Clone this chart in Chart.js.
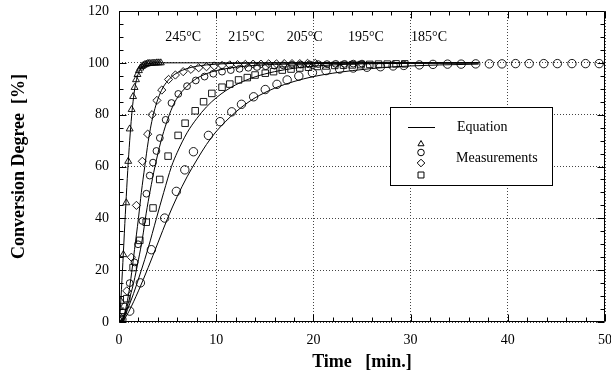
<!DOCTYPE html>
<html><head><meta charset="utf-8">
<script src="https://cdn.jsdelivr.net/npm/chart.js@4.4.1/dist/chart.umd.min.js"></script>
<style>html,body{margin:0;padding:0;background:#fff;}</style>
</head><body>
<canvas id="c" width="611" height="381"></canvas>
<script>
// ---- Data ----
const eq245T = [0, 0.1, 0.2, 0.3, 0.4, 0.5, 0.6, 0.7, 0.8, 0.9, 1.0, 1.1, 1.2, 1.3, 1.4, 1.6, 1.8, 2.0, 2.2, 2.5, 3.0, 4.0, 6.0, 37];
const eq245V = [0, 3, 9, 16, 23, 30.5, 38, 45, 52, 58.5, 64.5, 70, 75, 79.5, 83.5, 89.5, 93.5, 96, 97.6, 99, 99.7, 100, 100, 100];
const ms245T = [0.05, 0.2, 0.45, 0.75, 0.95, 1.1, 1.3, 1.45, 1.6, 1.75, 1.9, 2.05, 2.2, 2.35, 2.5, 2.65, 2.8, 2.95, 3.1, 3.3, 3.5, 3.7, 3.9, 4.1, 4.3];
const ms245V = [1, 8, 26, 46, 62, 74.5, 82, 87, 90.5, 93.5, 95.5, 97, 98, 98.6, 99, 99.3, 99.5, 99.7, 99.8, 99.8, 99.9, 99.9, 100, 100, 100];

const eq215T = [0, 0.5, 1.0, 1.3, 1.6, 2.0, 2.3, 2.65, 3.0, 3.3, 3.6, 4.0, 4.5, 5.0, 5.5, 6.0, 7.0, 8.0, 9.0, 10, 12, 15, 20, 37];
const eq215V = [0, 2.5, 11, 19, 28, 40, 50, 60, 69.5, 76, 81, 86, 90.3, 93, 94.9, 96.2, 97.8, 98.7, 99.2, 99.5, 99.8, 99.9, 100, 100];
const ms215T = [0.1, 0.4, 0.8, 1.27, 1.79, 2.4, 2.95, 3.4, 3.9, 4.4, 5.1, 5.8, 6.6, 7.4, 8.2, 9.0, 9.8, 10.6, 11.4, 12.2, 13.0, 13.8, 14.6, 15.4, 16.2, 17.0, 17.8, 18.6, 19.4, 20.2];
const ms215V = [0.5, 4, 12, 25, 45, 62, 72.5, 80, 85.5, 89.5, 93.6, 95.3, 96.6, 97.5, 98.1, 98.5, 98.8, 99, 99.2, 99.3, 99.4, 99.5, 99.5, 99.6, 99.6, 99.7, 99.7, 99.7, 99.8, 99.8];

const eq205T = [0, 0.5, 1.0, 1.5, 2.0, 2.4, 2.8, 3.2, 3.7, 4.3, 4.9, 5.5, 6.0, 7.0, 8.0, 9.0, 10, 12, 14, 16, 20, 25, 37];
const eq205V = [0, 2, 8, 15, 24, 32, 42, 50.5, 60, 69.5, 77, 83, 86.5, 91, 94, 95.8, 97, 98.3, 99, 99.4, 99.7, 99.9, 100];
const ms205T = [0.15, 0.6, 1.1, 1.6, 1.96, 2.4, 2.82, 3.16, 3.5, 3.85, 4.2, 4.8, 5.4, 6.1, 7.0, 7.9, 8.8, 9.7, 10.6, 11.5, 12.4, 13.3, 14.2, 15.1, 16.0, 16.9, 17.8, 18.7, 19.6, 20.5, 21.4, 22.3, 23.2, 24.1, 25.0];
const ms205V = [1, 6, 15, 23, 30, 39, 49.5, 56.5, 61.5, 66, 71, 78, 84.5, 88, 91, 93.2, 94.7, 95.8, 96.6, 97.2, 97.7, 98.1, 98.4, 98.7, 98.9, 99.0, 99.2, 99.3, 99.4, 99.5, 99.5, 99.6, 99.6, 99.7, 99.7];

const eq195T = [0, 0.5, 1.0, 1.5, 2.3, 3.0, 3.85, 4.6, 5.4, 6.0, 7.0, 8.0, 9.0, 10, 11, 12, 13, 14, 15, 16, 18, 20, 22, 25, 30, 37];
const eq195V = [0, 1.5, 6, 11, 20, 28.5, 40, 50, 60, 65.5, 73, 78.5, 83, 86.5, 89.3, 91.5, 93.2, 94.6, 95.7, 96.6, 97.9, 98.7, 99.2, 99.6, 99.8, 100];
const ms195T = [0.26, 0.8, 1.45, 2.14, 2.8, 3.5, 4.19, 5.05, 6.08, 6.8, 7.84, 8.7, 9.55, 10.6, 11.4, 12.3, 13.2, 14.0, 15.05, 15.9, 16.8, 17.7, 18.6, 19.5, 20.4, 21.3, 22.2, 23.1, 24.0, 24.9, 25.8, 26.7, 27.6, 28.5, 29.4];
const ms195V = [2, 9, 21, 31.5, 38.5, 44, 55, 64, 72, 76.7, 81.5, 85, 88.2, 90.6, 91.8, 93.4, 94.3, 95.3, 96, 96.6, 97.2, 97.6, 98, 98.3, 98.6, 98.8, 99, 99.1, 99.2, 99.3, 99.4, 99.5, 99.5, 99.6, 99.6];

const eq185T = [0, 0.5, 1, 2, 3, 4, 5, 6, 7, 8, 9, 10, 11, 12, 13, 14, 15, 16, 17, 18, 20, 22, 24, 26, 28, 30, 33, 37];
const eq185V = [0, 1, 4, 12, 21, 30.5, 40, 48.5, 56, 62.5, 68.5, 73.5, 77.5, 81, 84, 86.5, 88.5, 90.2, 91.6, 92.8, 94.7, 96, 97, 97.8, 98.4, 98.8, 99.2, 99.5];
const ms185T = [0.3, 1.1, 2.2, 3.33, 4.7, 5.9, 6.77, 7.66, 9.2, 10.4, 11.6, 12.6, 13.85, 15.05, 16.25, 17.3, 18.5, 19.9, 21.3, 22.7, 24.1, 25.5, 26.9, 28.2, 29.3, 30.9, 32.3, 33.8, 35.2, 36.7, 38.1, 39.4, 40.8, 42.2, 43.7, 45.1, 46.6, 48.0, 49.4];
const ms185V = [1, 4.2, 15.1, 27.9, 40.1, 50.4, 58.7, 65.7, 72, 77.3, 81.1, 84, 86.9, 89.7, 91.7, 93.4, 94.9, 96.2, 97, 97.6, 98, 98.3, 98.5, 98.8, 99, 99.2, 99.4, 99.5, 99.5, 99.6, 99.6, 99.6, 99.7, 99.7, 99.7, 99.7, 99.7, 99.7, 99.7];

const tempLabels = ['245°C', '215°C', '205°C', '195°C', '185°C'];
const tempLabelT = [6.6, 13.1, 19.1, 25.4, 31.9];
const tempLabelV = 110;

const xTicks = [0, 10, 20, 30, 40, 50];
const yTicks = [0, 20, 40, 60, 80, 100, 120];
const xMinorStep = 2, yMinorStep = 5;

// ---- Build datasets ----
const pts = (T, V) => T.map((t, i) => ({x: t, y: V[i]}));
const SERIF = "'Liberation Serif', 'Times New Roman', serif";

function eqSet(T, V) {
  return {data: pts(T, V), showLine: true, pointRadius: 0, borderColor: '#000', borderWidth: 1,
          cubicInterpolationMode: 'monotone', order: 2};
}
function msSet(T, V, style, r) {
  return {data: pts(T, V), showLine: false, pointStyle: style, pointRadius: r,
          pointBorderColor: '#000', pointBackgroundColor: 'rgba(0,0,0,0)', pointBorderWidth: 0.9, order: 1};
}

const datasets = [
  eqSet(eq245T, eq245V), eqSet(eq215T, eq215V), eqSet(eq205T, eq205V), eqSet(eq195T, eq195V), eqSet(eq185T, eq185V),
  msSet(ms245T, ms245V, 'triangle', 4),
  msSet(ms215T, ms215V, 'rectRot', 4.1),
  msSet(ms205T, ms205V, 'circle', 3.4),
  msSet(ms195T, ms195V, 'rect', 4.6),
  msSet(ms185T, ms185V, 'circle', 4.2)
];

// ---- Decorations: frame with inward ticks, temperature labels, legend box ----
const decor = {
  id: 'decor',
  afterDatasetsDraw(chart) {
    const {ctx, chartArea: {left, top, right, bottom}, scales: {x, y}} = chart;
    ctx.save();
    ctx.strokeStyle = '#000';
    ctx.lineWidth = 1;
    const L = Math.round(left) + 0.5, R = Math.round(right) - 0.5, T = Math.round(top) + 0.5, B = Math.round(bottom) - 0.5;
    ctx.beginPath();
    ctx.rect(L, T, R - L, B - T);
    ctx.stroke();
    ctx.beginPath();
    for (let v = x.min; v <= x.max + 1e-9; v += xMinorStep) {
      const px = Math.round(x.getPixelForValue(v)) + 0.5;
      const len = xTicks.includes(v) ? 7 : 4;
      ctx.moveTo(px, B); ctx.lineTo(px, B - len);
      ctx.moveTo(px, T); ctx.lineTo(px, T + len);
    }
    for (let v = y.min; v <= y.max + 1e-9; v += yMinorStep) {
      const py = Math.round(y.getPixelForValue(v)) + 0.5;
      const len = yTicks.includes(v) ? 7 : 4;
      ctx.moveTo(L, py); ctx.lineTo(L + len, py);
      ctx.moveTo(R, py); ctx.lineTo(R - len, py);
    }
    ctx.stroke();

    // temperature labels
    ctx.fillStyle = '#000';
    ctx.font = "14px " + SERIF;
    ctx.textAlign = 'center';
    ctx.textBaseline = 'middle';
    tempLabels.forEach((s, i) => {
      ctx.fillText(s, x.getPixelForValue(tempLabelT[i]), y.getPixelForValue(tempLabelV));
    });

    // legend box
    const bx = 390.5, by = 107.5, bw = 162, bh = 78;
    ctx.fillStyle = '#fff';
    ctx.fillRect(bx, by, bw, bh);
    ctx.strokeRect(bx, by, bw, bh);
    ctx.beginPath();
    ctx.moveTo(408, 127.5); ctx.lineTo(435, 127.5);
    ctx.stroke();
    ctx.fillStyle = '#000';
    ctx.textAlign = 'left';
    ctx.fillText('Equation', 457, 127);
    ctx.fillText('Measurements', 456, 158);
    const H = Chart.helpers;
    const mk = (style, r, yy) => H.drawPoint(ctx, {pointStyle: style, radius: r, borderWidth: 0.9}, 421, yy);
    ctx.strokeStyle = '#000';
    ctx.fillStyle = 'rgba(0,0,0,0)';
    mk('triangle', 3.5, 144);
    mk('circle', 3.3, 152.5);
    mk('rectRot', 3.8, 163);
    mk('rect', 4.2, 175);
    ctx.restore();
  }
};

new Chart(document.getElementById('c'), {
  type: 'scatter',
  data: {datasets},
  plugins: [decor],
  options: {
    responsive: false,
    animation: false,
    layout: {padding: {top: 11, right: 6, left: 0, bottom: 0}},
    plugins: {legend: {display: false}, tooltip: {enabled: false}},
    scales: {
      x: {
        type: 'linear', min: 0, max: 50,
        afterBuildTicks(s) { s.ticks = xTicks.map(v => ({value: v})); },
        ticks: {font: {family: SERIF, size: 14}, color: '#000', padding: 10, maxRotation: 0},
        grid: {color: '#444', lineWidth: 1, drawTicks: false},
        border: {display: false, dash: [1, 2]},
        title: {display: true, text: 'Time   [min.]', color: '#000',
                font: {family: SERIF, size: 18, weight: 'bold'}, padding: {top: 0, bottom: 8}},
        afterFit(s) { s.height = 59; s.paddingLeft = 0; s.paddingRight = 0; }
      },
      y: {
        type: 'linear', min: 0, max: 120,
        afterBuildTicks(s) { s.ticks = yTicks.map(v => ({value: v})); },
        ticks: {font: {family: SERIF, size: 14}, color: '#000', padding: 10},
        grid: {color: '#444', lineWidth: 1, drawTicks: false},
        border: {display: false, dash: [1, 2]},
        title: {display: true, text: 'Conversion Degree  [%]', color: '#000',
                font: {family: SERIF, size: 18, weight: 'bold'}, padding: {top: 9, bottom: 0}},
        afterFit(s) { s.width = 119; s.paddingTop = 0; s.paddingBottom = 0; }
      }
    }
  }
});
</script>
</body></html>
